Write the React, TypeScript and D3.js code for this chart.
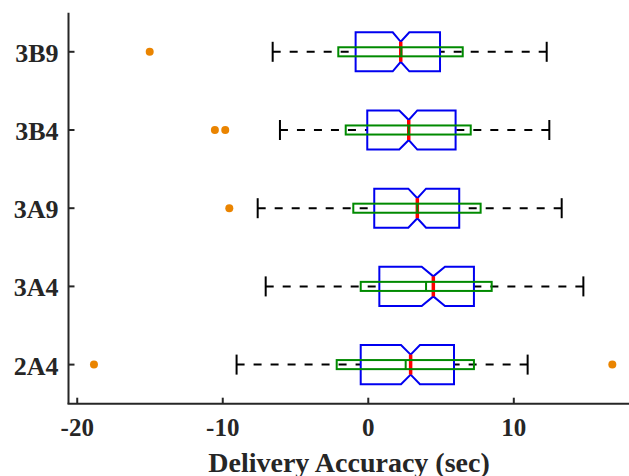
import React from "react";
import * as d3 from "d3";

// Categories, bottom to top
const categories = ["2A4", "3A4", "3A9", "3B4", "3B9"];
const medians = [2.91, 4.47, 3.37, 2.78, 2.23];
const q1 = [-0.52, 0.76, 0.41, -0.07, -0.87];
const q3 = [5.89, 7.26, 6.25, 6.0, 4.93];
const notchLow = [2.25, 3.67, 2.75, 2.13, 1.68];
const notchHigh = [3.55, 5.27, 3.97, 3.37, 2.82];
const whiskerLow = [-9.05, -7.05, -7.6, -6.07, -6.57];
const whiskerHigh = [10.95, 14.78, 13.29, 12.44, 12.26];
const greenLow = [-2.17, -0.52, -1.03, -1.55, -2.06];
const greenHigh = [7.26, 8.48, 7.72, 7.04, 6.49];
const greenMid = [2.57, 3.97, 3.37, 2.78, 2.27];
const outlierCats = ["2A4", "2A4", "3A9", "3B4", "3B4", "3B9"];
const outlierValues = [-18.85, 16.77, -9.55, -10.54, -9.83, -15.02];
const xTicks = [-20, -10, 0, 10];
const xLabel = "Delivery Accuracy (sec)";

const W = 629;
const H = 476;
const axisColor = "#262626";
const font = "'Liberation Serif', 'Times New Roman', serif";

export default function App() {
  const x = d3.scaleLinear().domain([-20.6, 17.95]).range([68.5, 629.5]);
  const y = d3.scaleLinear().domain([0.5, 5.5]).range([403.7, 12.7]);
  const catPos = (c: string) => categories.indexOf(c) + 1;
  const py = (v: number) => y(0) - y(v); // pixel size of a unit fraction
  const boxH = py(0.25);
  const notchH = py(0.128);
  const capH = py(0.128);
  const greenH = py(0.058);

  return (
    <svg
      width={W}
      height={H}
      style={{ position: "absolute", left: 0, top: 0, background: "#fff" }}
    >
      {categories.map((c, i) => {
        const cy = y(i + 1);
        const path = d3.path();
        path.moveTo(x(q1[i]), cy - boxH);
        path.lineTo(x(notchLow[i]), cy - boxH);
        path.lineTo(x(medians[i]), cy - notchH);
        path.lineTo(x(notchHigh[i]), cy - boxH);
        path.lineTo(x(q3[i]), cy - boxH);
        path.lineTo(x(q3[i]), cy + boxH);
        path.lineTo(x(notchHigh[i]), cy + boxH);
        path.lineTo(x(medians[i]), cy + notchH);
        path.lineTo(x(notchLow[i]), cy + boxH);
        path.lineTo(x(q1[i]), cy + boxH);
        path.closePath();
        return (
          <g key={c}>
            {/* whiskers */}
            <line
              x1={x(whiskerLow[i])}
              x2={x(q1[i])}
              y1={cy}
              y2={cy}
              stroke="#000"
              strokeWidth={2}
              strokeDasharray="8 9"
            />
            <line
              x1={x(whiskerHigh[i])}
              x2={x(q3[i])}
              y1={cy}
              y2={cy}
              stroke="#000"
              strokeWidth={2}
              strokeDasharray="8 9"
            />
            <line
              x1={x(whiskerLow[i])}
              x2={x(whiskerLow[i])}
              y1={cy - capH}
              y2={cy + capH}
              stroke="#000"
              strokeWidth={2}
            />
            <line
              x1={x(whiskerHigh[i])}
              x2={x(whiskerHigh[i])}
              y1={cy - capH}
              y2={cy + capH}
              stroke="#000"
              strokeWidth={2}
            />
            {/* notched box */}
            <path d={path.toString()} fill="none" stroke="#0000f0" strokeWidth={2} />
            {/* median */}
            <line
              x1={x(medians[i])}
              x2={x(medians[i])}
              y1={cy - notchH}
              y2={cy + notchH}
              stroke="#ff0000"
              strokeWidth={3.5}
            />
            {/* green box */}
            <rect
              x={x(greenLow[i])}
              y={cy - greenH}
              width={x(greenHigh[i]) - x(greenLow[i])}
              height={2 * greenH}
              fill="none"
              stroke="#008a00"
              strokeWidth={2}
            />
            <line
              x1={x(greenMid[i])}
              x2={x(greenMid[i])}
              y1={cy - greenH}
              y2={cy + greenH}
              stroke="#008a00"
              strokeWidth={2}
            />
          </g>
        );
      })}
      {outlierValues.map((v, i) => (
        <circle
          key={i}
          cx={x(v)}
          cy={y(catPos(outlierCats[i]))}
          r={4}
          fill="#ea8400"
        />
      ))}
      {/* axes */}
      <line x1={68.5} x2={68.5} y1={y(5.5)} y2={y(0.5)} stroke={axisColor} strokeWidth={2} />
      <line x1={67.5} x2={W} y1={y(0.5)} y2={y(0.5)} stroke={axisColor} strokeWidth={2} />
      {xTicks.map((t) => (
        <g key={t}>
          <line
            x1={x(t)}
            x2={x(t)}
            y1={y(0.5)}
            y2={y(0.5) - 6}
            stroke={axisColor}
            strokeWidth={2}
          />
          <text
            x={x(t)}
            y={436}
            textAnchor="middle"
            fontFamily={font}
            fontWeight="bold"
            fontSize={25}
            fill={axisColor}
          >
            {t}
          </text>
        </g>
      ))}
      {categories.map((c, i) => (
        <g key={c}>
          <line
            x1={68.5}
            x2={74.5}
            y1={y(i + 1)}
            y2={y(i + 1)}
            stroke={axisColor}
            strokeWidth={2}
          />
          <text
            x={58.5}
            y={y(i + 1) + 10}
            textAnchor="end"
            fontFamily={font}
            fontWeight="bold"
            fontSize={26}
            fill={axisColor}
          >
            {c}
          </text>
        </g>
      ))}
      <text
        x={349}
        y={472}
        textAnchor="middle"
        fontFamily={font}
        fontWeight="bold"
        fontSize={28}
        fill={axisColor}
      >
        {xLabel}
      </text>
    </svg>
  );
}
